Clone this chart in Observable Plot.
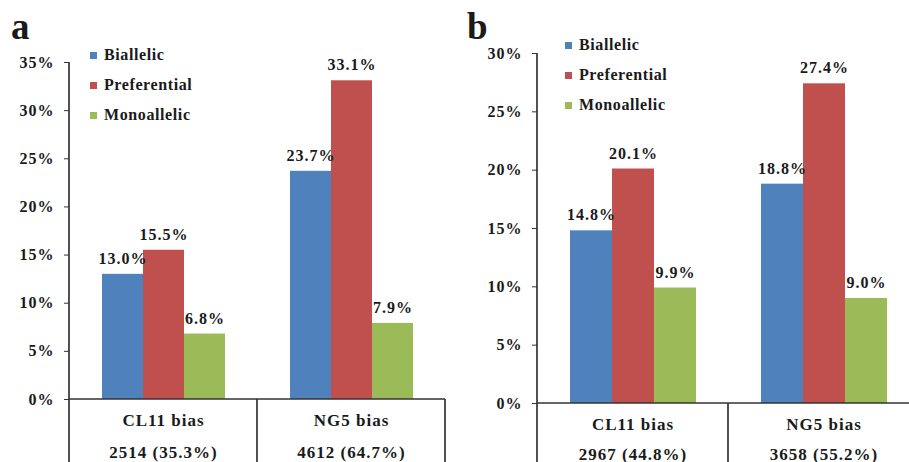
<!DOCTYPE html>
<html><head><meta charset="utf-8">
<script src="https://cdn.jsdelivr.net/npm/d3@7"></script>
<script src="https://cdn.jsdelivr.net/npm/@observablehq/plot@0.6"></script>
<style>
html,body{margin:0;padding:0;background:#fff;overflow:hidden;font-family:'Liberation Serif',serif;font-weight:bold;}
#root{position:relative;width:909px;height:462px;overflow:hidden;font-family:'Liberation Serif',serif;font-weight:bold;color:#1a1a1a;}
.panel{position:absolute;top:0;}
.plabel{position:absolute;font-family:'Liberation Serif',serif;font-size:37px;line-height:37px;}
.leg{position:absolute;font-family:'Liberation Serif',serif;font-size:16px;letter-spacing:0.6px;line-height:16px;white-space:nowrap;}
.sw{position:absolute;width:7px;height:7px;}
svg.panel text{font-family:'Liberation Serif',serif !important;font-weight:bold;letter-spacing:1px;}
</style></head><body><div id="root"></div>
<script>
// ---- data ----
const series = ["Biallelic", "Preferential", "Monoallelic"];
const colors = ["#4F81BD", "#C0504D", "#9BBB59"];

const catsA = ["CL11 bias", "NG5 bias"];
const countsA = ["2514 (35.3%)", "4612 (64.7%)"];
const biallelicA = [13.0, 23.7];
const preferentialA = [15.5, 33.1];
const monoallelicA = [6.8, 7.9];
const yTicksA = [0, 5, 10, 15, 20, 25, 30, 35];

const catsB = ["CL11 bias", "NG5 bias"];
const countsB = ["2967 (44.8%)", "3658 (55.2%)"];
const biallelicB = [14.8, 18.8];
const preferentialB = [20.1, 27.4];
const monoallelicB = [9.9, 9.0];
const yTicksB = [0, 5, 10, 15, 20, 25, 30];

const FONT = "'Liberation Serif', serif";

function table(cats, b, p, m) {
  const rows = [];
  cats.forEach((c, i) => {
    [b, p, m].forEach((arr, j) => rows.push({cat: c, series: series[j], value: arr[i]}));
  });
  return rows;
}

const root = document.getElementById("root");

function panel(cfg) {
  const data = table(cfg.cats, cfg.b, cfg.p, cfg.m);
  const labels = cfg.cats.map((c, i) => ({cat: c, count: cfg.counts[i]}));
  const yMax = cfg.ticks[cfg.ticks.length - 1];
  const plot = Plot.plot({
    width: cfg.width,
    height: 462,
    marginLeft: cfg.marginLeft,
    marginRight: cfg.marginRight,
    marginTop: cfg.marginTop,
    marginBottom: cfg.marginBottom,
    style: {fontFamily: FONT, fontWeight: "bold", fontSize: "16px", color: "#1a1a1a", background: "transparent", overflow: "visible"},
    fx: {domain: cfg.cats, padding: 0, axis: null},
    x: {domain: series, paddingInner: 0, paddingOuter: 0.76, axis: null},
    y: {domain: [0, yMax], axis: null},
    color: {domain: series, range: colors},
    marks: [
      Plot.barY(data, {fx: "cat", x: "series", y: "value", fill: "series", inset: 0}),
      Plot.text(data, {fx: "cat", x: "series", y: "value", text: d => d.value.toFixed(1) + "%", dy: -15.5, fontSize: 16, fontFamily: FONT, fontWeight: "bold", fill: "#1a1a1a"}),
      Plot.axisY({ticks: cfg.ticks, tickFormat: d => d + "%", tickSize: 5, tickPadding: 10, fontSize: 16, fontFamily: FONT, fontWeight: "bold", stroke: "#333", fill: "#1a1a1a", label: null}),
      Plot.text(labels, {fx: "cat", text: "cat", frameAnchor: "bottom", dy: cfg.dy1, fontSize: 17, fontFamily: FONT, fontWeight: "bold", fill: "#1a1a1a"}),
      Plot.text(labels, {fx: "cat", text: "count", frameAnchor: "bottom", dy: cfg.dy2, fontSize: 17, fontFamily: FONT, fontWeight: "bold", fill: "#1a1a1a"})
    ]
  });
  plot.classList.add("panel");
  plot.style.left = cfg.left + "px";
  root.appendChild(plot);

  const svg = d3.select(plot);
  svg.selectAll("text").attr("font-family", FONT).style("font-family", FONT).attr("font-weight", "bold");

  // axis frame lines drawn from the plot's own scales
  const fx = plot.scale("fx");
  const y = plot.scale("y");
  const g = svg.append("g").attr("stroke", "#333").attr("stroke-width", 1.7).attr("fill", "none");
  const y0 = y.apply(0), yTop = y.apply(yMax);
  const left = fx.apply(cfg.cats[0]);
  const last = cfg.cats[cfg.cats.length - 1];
  const right = fx.apply(last) + fx.bandwidth;
  g.append("line").attr("x1", left).attr("x2", right).attr("y1", y0).attr("y2", y0);
  g.append("line").attr("x1", left).attr("x2", left).attr("y1", yTop).attr("y2", 462);
  cfg.cats.slice(1).forEach(c => {
    const x = fx.apply(c);
    g.append("line").attr("x1", x).attr("x2", x).attr("y1", y0).attr("y2", 462);
  });
  g.append("line").attr("x1", right).attr("x2", right).attr("y1", y0).attr("y2", 462);

  // panel label
  const pl = document.createElement("div");
  pl.className = "plabel";
  pl.textContent = cfg.tag;
  pl.style.left = cfg.tagX + "px";
  pl.style.top = cfg.tagY + "px";
  root.appendChild(pl);

  // legend
  series.forEach((s, i) => {
    const sw = document.createElement("div");
    sw.className = "sw";
    sw.style.background = colors[i];
    sw.style.left = cfg.legX + "px";
    sw.style.top = (cfg.legY + i * 30 - 3) + "px";
    root.appendChild(sw);
    const t = document.createElement("div");
    t.className = "leg";
    t.textContent = s;
    t.style.left = (cfg.legX + 14) + "px";
    t.style.top = (cfg.legY + i * 30 - 8) + "px";
    root.appendChild(t);
  });
}

panel({cats: catsA, counts: countsA, b: biallelicA, p: preferentialA, m: monoallelicA, ticks: yTicksA,
  left: 0, width: 455, marginLeft: 68, marginRight: 10, marginTop: 62, marginBottom: 63,
  dy1: 26, dy2: 58, tag: "a", tagX: 11, tagY: 8, legX: 90, legY: 55});
panel({cats: catsB, counts: countsB, b: biallelicB, p: preferentialB, m: monoallelicB, ticks: yTicksB,
  left: 455, width: 464, marginLeft: 82, marginRight: 0, marginTop: 53, marginBottom: 59,
  dy1: 26, dy2: 56, tag: "b", tagX: 467, tagY: 8, legX: 565, legY: 45});
</script></body></html>
